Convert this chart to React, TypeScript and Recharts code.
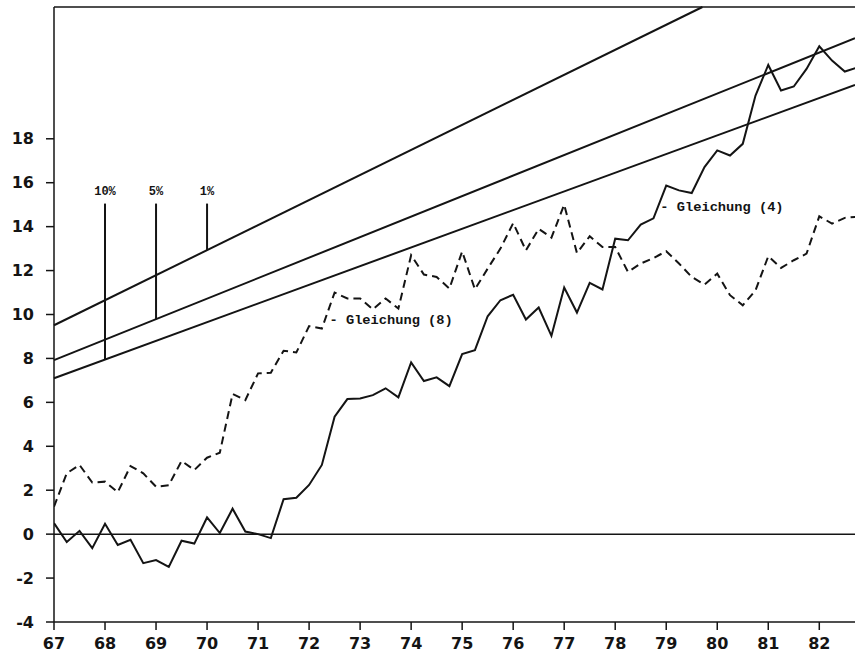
import * as React from 'react';
import { LineChart, Line, XAxis, YAxis, ReferenceLine, ReferenceDot } from 'recharts';

// quarters 1967/I .. 1982/IV
const QUARTERS = [
  67, 67.25, 67.5, 67.75, 68, 68.25, 68.5, 68.75, 69, 69.25, 69.5, 69.75,
  70, 70.25, 70.5, 70.75, 71, 71.25, 71.5, 71.75, 72, 72.25, 72.5, 72.75,
  73, 73.25, 73.5, 73.75, 74, 74.25, 74.5, 74.75, 75, 75.25, 75.5, 75.75,
  76, 76.25, 76.5, 76.75, 77, 77.25, 77.5, 77.75, 78, 78.25, 78.5, 78.75,
  79, 79.25, 79.5, 79.75, 80, 80.25, 80.5, 80.75, 81, 81.25, 81.5, 81.75,
  82, 82.25, 82.5, 82.75,
];

// Gleichung (4), solid
const EQ4 = [
  0.5, -0.36, 0.15, -0.64, 0.47, -0.49, -0.26, -1.32, -1.18, -1.49, -0.3, -0.43,
  0.76, 0.05, 1.16, 0.12, 0.0, -0.18, 1.59, 1.66, 2.24, 3.15, 5.35, 6.15,
  6.18, 6.33, 6.64, 6.23, 7.82, 6.97, 7.14, 6.74, 8.2, 8.38, 9.92, 10.65,
  10.9, 9.77, 10.32, 9.03, 11.23, 10.09, 11.44, 11.14, 13.45, 13.38, 14.09, 14.38,
  15.87, 15.65, 15.53, 16.71, 17.47, 17.24, 17.77, 19.97, 21.36, 20.2, 20.38, 21.18,
  22.21, 21.56, 21.06, 21.25,
];

// Gleichung (8), dashed
const EQ8 = [
  1.25, 2.77, 3.15, 2.35, 2.39, 1.91, 3.1, 2.77, 2.16, 2.23, 3.33, 2.92,
  3.48, 3.71, 6.38, 6.1, 7.32, 7.35, 8.35, 8.27, 9.47, 9.36, 11.0, 10.73,
  10.73, 10.23, 10.73, 10.27, 12.7, 11.82, 11.71, 11.18, 12.87, 11.15, 12.09, 13.0,
  14.16, 12.92, 13.9, 13.5, 15.0, 12.8, 13.56, 13.07, 13.07, 11.94, 12.32, 12.57,
  12.88, 12.32, 11.71, 11.36, 11.86, 10.88, 10.42, 11.1, 12.65, 12.12, 12.47, 12.77,
  14.47, 14.14, 14.4, 14.45,
];

// critical bounds (straight lines): start at 67, end point
const BOUND_NAMES = ['10%', '5%', '1%'];
const BOUND_START_Y = [7.1, 7.92, 9.51];
const BOUND_END_X = [82.7, 82.7, 79.71];
const BOUND_END_Y = [20.45, 22.58, 24];
// pointer lines from the labels down to each bound
const POINTER_X = [68, 69, 70];
const POINTER_BOTTOM = [7.95, 9.79, 12.93];
const POINTER_TOP = 15.05;
const POINTER_LABEL_Y = 15.57;

const X_TICKS = [67, 68, 69, 70, 71, 72, 73, 74, 75, 76, 77, 78, 79, 80, 81, 82];
const Y_TICKS = [-4, -2, 0, 2, 4, 6, 8, 10, 12, 14, 16, 18];

const INK = '#141414';

const data = QUARTERS.map((q, i) => ({ q, eq4: EQ4[i], eq8: EQ8[i] }));

const tickStyle = {
  fontFamily: 'DejaVu Sans',
  fontWeight: 'bold',
  fontSize: 16,
  fill: INK,
};

const monoText = (text: string, size: number, anchor: 'start' | 'middle') =>
  (p: any) => (
    <text
      x={p.cx}
      y={p.cy}
      textAnchor={anchor}
      dominantBaseline="central"
      fontFamily="Liberation Mono"
      fontWeight="bold"
      fontSize={size}
      fill={INK}
    >
      {text}
    </text>
  );

export default function App() {
  return (
    <div style={{ position: 'absolute', left: 0, top: 0, width: 855, height: 658, background: '#fff' }}>
      <LineChart
        width={855}
        height={658}
        data={data}
        margin={{ top: 7, right: 0, bottom: 0, left: 0 }}
      >
        <XAxis
          dataKey="q"
          type="number"
          domain={[67, 82.7]}
          allowDataOverflow
          ticks={X_TICKS}
          height={36}
          tickSize={8}
          tickMargin={8}
          stroke={INK}
          strokeWidth={1.5}
          tick={tickStyle}
        />
        <YAxis
          type="number"
          domain={[-4, 24]}
          ticks={Y_TICKS}
          width={54}
          tickSize={8}
          tickMargin={12}
          stroke={INK}
          strokeWidth={1.5}
          tick={tickStyle}
        />
        <ReferenceLine y={24} stroke={INK} strokeWidth={1.5} />
        <ReferenceLine y={0} stroke={INK} strokeWidth={1.5} />
        {BOUND_NAMES.map((name, i) => (
          <ReferenceLine
            key={name}
            segment={[
              { x: 67, y: BOUND_START_Y[i] },
              { x: BOUND_END_X[i], y: BOUND_END_Y[i] },
            ]}
            stroke={INK}
            strokeWidth={2}
          />
        ))}
        {BOUND_NAMES.map((name, i) => (
          <ReferenceLine
            key={'p' + name}
            segment={[
              { x: POINTER_X[i], y: POINTER_TOP },
              { x: POINTER_X[i], y: POINTER_BOTTOM[i] },
            ]}
            stroke={INK}
            strokeWidth={2}
          />
        ))}
        {BOUND_NAMES.map((name, i) => (
          <ReferenceDot
            key={'l' + name}
            x={POINTER_X[i]}
            y={POINTER_LABEL_Y}
            r={0}
            shape={monoText(name, 12, 'middle')}
          />
        ))}
        <Line
          type="linear"
          dataKey="eq8"
          stroke={INK}
          strokeWidth={2}
          strokeDasharray="8 5"
          dot={false}
          isAnimationActive={false}
        />
        <Line
          type="linear"
          dataKey="eq4"
          stroke={INK}
          strokeWidth={2}
          dot={false}
          isAnimationActive={false}
        />
        <ReferenceDot x={72.4} y={9.74} r={0} shape={monoText('- Gleichung (8)', 13.7, 'start')} />
        <ReferenceDot x={78.885} y={14.88} r={0} shape={monoText('- Gleichung (4)', 13.7, 'start')} />
      </LineChart>
    </div>
  );
}
